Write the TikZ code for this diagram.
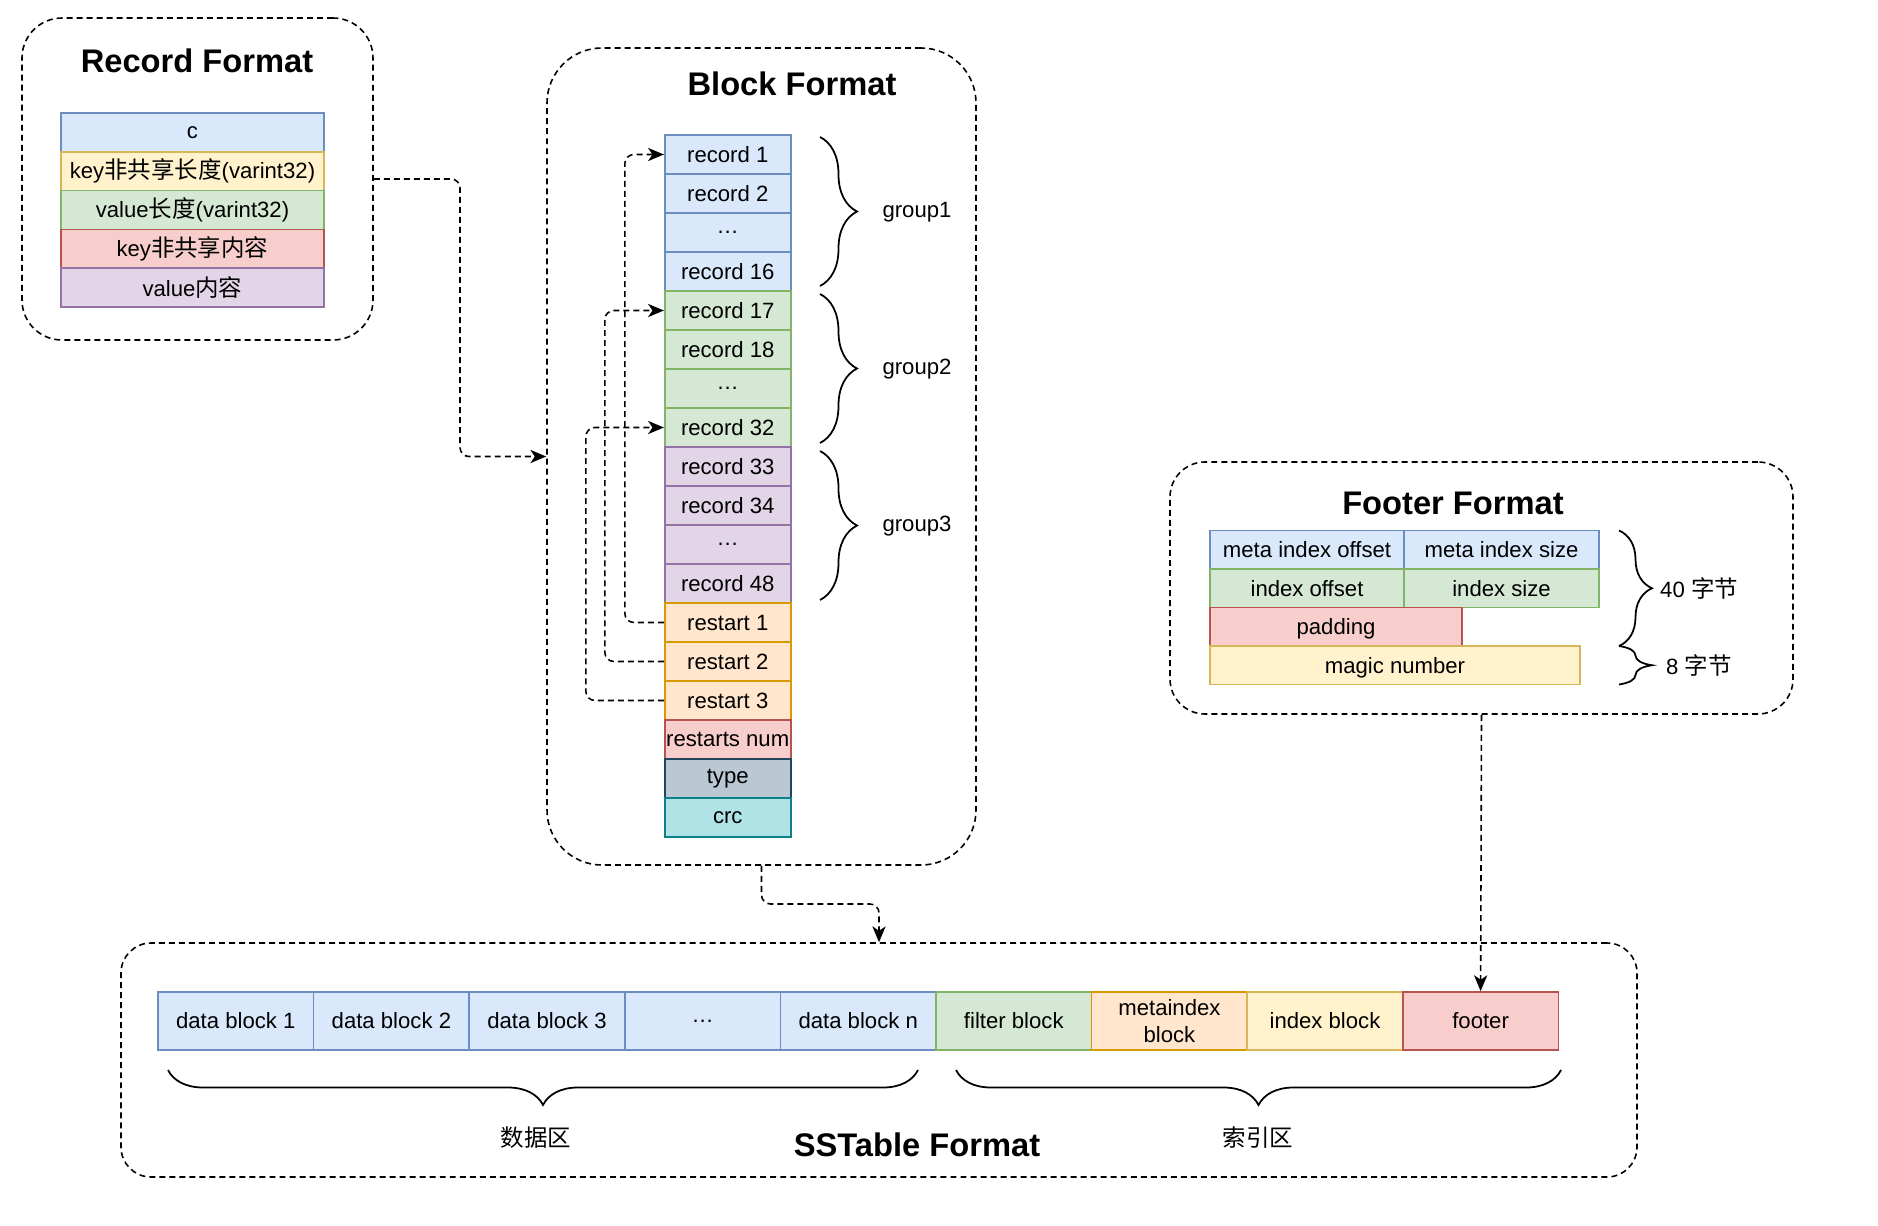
\documentclass[tikz,border=0pt]{standalone}
\usepackage{fontspec}
\setmainfont{Liberation Sans}
\newfontfamily\cjk[Scale=1.06]{Noto Sans CJK SC}
\usetikzlibrary{arrows.meta,calc,decorations.pathreplacing}

\definecolor{bluefill}{HTML}{DAE8FC}   \definecolor{blueline}{HTML}{6C8EBF}
\definecolor{yellowfill}{HTML}{FFF2CC} \definecolor{yellowline}{HTML}{D6B656}
\definecolor{greenfill}{HTML}{D5E8D4}  \definecolor{greenline}{HTML}{82B366}
\definecolor{redfill}{HTML}{F8CECC}    \definecolor{redline}{HTML}{B85450}
\definecolor{purplefill}{HTML}{E1D5E7} \definecolor{purpleline}{HTML}{9673A6}
\definecolor{orangefill}{HTML}{FFE6CC} \definecolor{orangeline}{HTML}{D79B00}
\definecolor{grayfill}{HTML}{BAC8D3}   \definecolor{grayline}{HTML}{23445D}
\definecolor{tealfill}{HTML}{B0E3E6}   \definecolor{tealline}{HTML}{0E8088}

\newcommand{\pxu}{0.02cm}

\begin{document}
\begin{tikzpicture}[x=0.02cm,y=-0.02cm,
    cell/.style={draw=#1line,fill=#1fill,line width=1pt,inner sep=0pt,align=center,
      font=\fontsize{12.6}{15}\selectfont},
    frame/.style={draw,line width=0.9pt,dash pattern=on 3.4pt off 2.3pt},
    title/.style={font=\fontsize{18.6}{22}\selectfont\bfseries},
    lbl/.style={font=\fontsize{12.6}{15}\selectfont},
    conn/.style={line width=0.9pt,dash pattern=on 3.4pt off 2.3pt,rounded corners=0.18cm,
      -{Stealth[length=9pt,width=7.5pt,inset=2.5pt]}},
    curly/.style={decorate,decoration={brace,amplitude=#1},line width=1pt}]
  \useasboundingbox (0,0) rectangle (1878,1226);

  %%%%%%%%%%%%%%%%%%%%%%%%%%%%%%%%%%%%%%%%%%%%%%%%%%%%%%%%%%%%%%%%%%%%%%%%%%%
  %%%%  frames
  \node[frame,rounded corners=0.8cm,minimum width=351*\pxu,minimum height=322*\pxu] (recbox) at (197.5,179) {};
  \node[frame,rounded corners=1.1cm,minimum width=429*\pxu,minimum height=817*\pxu] (blkbox) at (761.5,456.5) {};
  \node[frame,rounded corners=0.7cm,minimum width=623*\pxu,minimum height=252*\pxu] (ftbox) at (1481.5,588) {};
  \node[frame,rounded corners=0.6cm,minimum width=1516*\pxu,minimum height=234*\pxu] (sstbox) at (879,1060) {};

  \node[title] (rectitle) at (197,61) {Record Format};
  \node[title] (blktitle) at (792,84) {Block Format};
  \node[title] (fttitle) at (1453,503) {Footer Format};
  \node[title] (ssttitle) at (917,1145) {SSTable Format};

  %%%%%%%%%%%%%%%%%%%%%%%%%%%%%%%%%%%%%%%%%%%%%%%%%%%%%%%%%%%%%%%%%%%%%%%%%%%
  %%%%  Record
  \foreach \lab/\col [count=\i] in {c/blue, key{\cjk 非共享长度}(varint32)/yellow,
      value{\cjk 长度}(varint32)/green, key{\cjk 非共享内容}/red, value{\cjk 内容}/purple}
    {\node[cell=\col,minimum width=263*\pxu,minimum height=38.8*\pxu] (rec\i)
       at (192.5,{93.6+\i*38.8}) {\lab};};

  %%%%%%%%%%%%%%%%%%%%%%%%%%%%%%%%%%%%%%%%%%%%%%%%%%%%%%%%%%%%%%%%%%%%%%%%%%%
  %%%%  Block
  \foreach \lab/\col [count=\i] in {record 1/blue, record 2/blue, \ldots/blue, record 16/blue,
      record 17/green, record 18/green, \ldots/green, record 32/green,
      record 33/purple, record 34/purple, \ldots/purple, record 48/purple,
      restart 1/orange, restart 2/orange, restart 3/orange,
      restarts num/red, type/gray, crc/teal}
    {\node[cell=\col,minimum width=126*\pxu,minimum height=39*\pxu] (r\i)
       at (727.75,{115.5+\i*39}) {\lab};};

  \foreach \g in {1,2,3}
    {\pgfmathsetmacro\gtop{137+(\g-1)*157}
     \pgfmathsetmacro\gbot{\gtop+149}
     \draw[curly=0.74cm] (820,\gtop) -- (820,\gbot);
     \node[lbl] (grp\g) at (917,{\gtop+75}) {group\g};};

  % restart pointers
  \draw[conn] (r13.west) -- ++(-39,0) |- (r1.west);
  \draw[conn] (r14.west) -- ++(-59,0) |- (r5.west);
  \draw[conn] (r15.west) -- ++(-78,0) |- (r8.west);

  %%%%%%%%%%%%%%%%%%%%%%%%%%%%%%%%%%%%%%%%%%%%%%%%%%%%%%%%%%%%%%%%%%%%%%%%%%%
  %%%%  Footer
  \node[cell=blue,minimum width=194*\pxu,minimum height=38.5*\pxu] (fmo) at (1307,549.75) {meta index offset};
  \node[cell=blue,minimum width=195*\pxu,minimum height=38.5*\pxu] (fms) at (1501.5,549.75) {meta index size};
  \node[cell=green,minimum width=194*\pxu,minimum height=38.5*\pxu] (fio) at (1307,588.25) {index offset};
  \node[cell=green,minimum width=195*\pxu,minimum height=38.5*\pxu] (fis) at (1501.5,588.25) {index size};
  \node[cell=red,minimum width=252*\pxu,minimum height=38.5*\pxu,text depth=0pt] (fpad) at (1336,626.75) {padding};
  \node[cell=yellow,minimum width=370*\pxu,minimum height=38.5*\pxu,text depth=0pt] (fmagic) at (1395,665.25) {magic number};

  \draw[curly=0.66cm] (1619,530.5) -- (1619,646);
  \draw[curly=0.66cm] (1619,646) -- (1619,684.5);
  \node[lbl,anchor=west] (f40) at (1654,588) {40 {\cjk 字节}};
  \node[lbl,anchor=west] (f8) at (1660,665.5) {8 {\cjk 字节}};

  %%%%%%%%%%%%%%%%%%%%%%%%%%%%%%%%%%%%%%%%%%%%%%%%%%%%%%%%%%%%%%%%%%%%%%%%%%%
  %%%%  SSTable
  \foreach \lab/\col [count=\i] in {data block 1/blue, data block 2/blue, data block 3/blue,
      \ldots/blue, data block n/blue, filter block/green, {metaindex\\block}/orange,
      index block/yellow, footer/red}
    {\node[cell=\col,minimum width=155.6*\pxu,minimum height=58*\pxu] (sst\i)
       at ({80.2+\i*155.6},1021) {\lab};};

  \draw[curly=0.7cm] (918,1070) -- (168,1070);
  \draw[curly=0.7cm] (1561,1070) -- (956,1070);
  \node[lbl] (dataarea) at (536,1138) {\cjk 数据区};
  \node[lbl] (idxarea) at (1258,1138) {\cjk 索引区};

  %%%%%%%%%%%%%%%%%%%%%%%%%%%%%%%%%%%%%%%%%%%%%%%%%%%%%%%%%%%%%%%%%%%%%%%%%%%
  %%%%  links between frames
  \coordinate (m1) at ($(recbox.east)!.5!(blkbox.west)$);
  \coordinate (m2) at ($(blkbox.south)!.5!(sstbox.north)$);
  \draw[conn] (recbox.east) -| (m1) |- (blkbox.west);
  \draw[conn] (blkbox.south) |- (m2) -| (sstbox.north);
  \draw[conn] (ftbox.south) -- (sst9.north);
\end{tikzpicture}
\end{document}
